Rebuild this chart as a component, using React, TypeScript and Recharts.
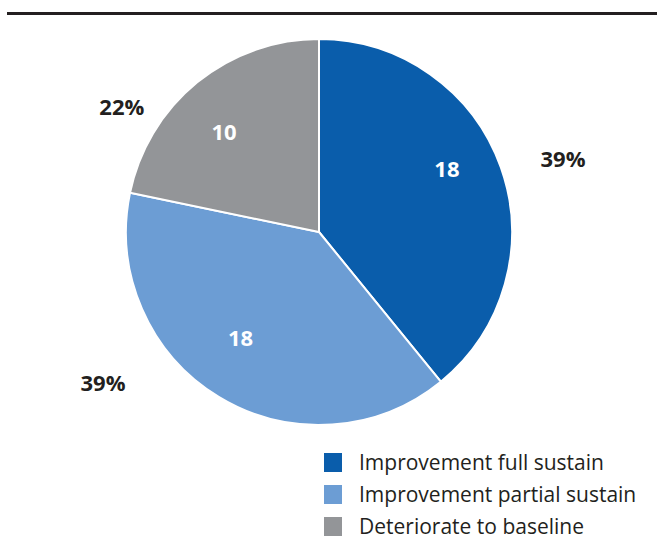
import React from "react";
import { PieChart, Pie, Cell, Legend } from "recharts";

const categories = ["Improvement full sustain", "Improvement partial sustain", "Deteriorate to baseline"];
const counts = [18, 18, 10];
const percentLabels = ["39%", "39%", "22%"];
const colors = ["#0a5dab", "#6c9dd4", "#939598"];

// label placement tweaks (degrees off the slice mid angle, and distance from centre)
const outerShift = [-2.7, -23.9, 18.3];
const outerDist = [255, 263, 234];
const innerShift = [7, -5.5, 4];
const innerDist = [143, 131, 139];

const data = categories.map((name, i) => ({ name, value: counts[i], pct: percentLabels[i] }));

const RAD = Math.PI / 180;
const FONT = "'Open Sans', 'Noto Sans', sans-serif";

const renderLabel = (props: any) => {
  const { cx, cy, midAngle, index } = props;
  const a1 = (midAngle + innerShift[index]) * RAD;
  const a2 = (midAngle + outerShift[index]) * RAD;
  return (
    <g>
      <text
        x={cx + innerDist[index] * Math.cos(a1)}
        y={cy - innerDist[index] * Math.sin(a1)}
        fill="#ffffff"
        fontSize={22}
        fontWeight={700}
        fontFamily={FONT}
        textAnchor="middle"
        dominantBaseline="central"
      >
        {counts[index]}
      </text>
      <text
        x={cx + outerDist[index] * Math.cos(a2)}
        y={cy - outerDist[index] * Math.sin(a2)}
        fill="#231f20"
        fontSize={22}
        fontWeight={700}
        fontFamily={FONT}
        textAnchor="middle"
        dominantBaseline="central"
      >
        {percentLabels[index]}
      </text>
    </g>
  );
};

const renderLegend = () => (
  <div style={{ fontFamily: FONT, fontSize: 21, color: "#231f20" }}>
    {categories.map((c, i) => (
      <div key={c} style={{ display: "flex", alignItems: "center", height: 32 }}>
        <span style={{ width: 18, height: 19, background: colors[i], marginRight: 17, display: "inline-block" }} />
        <span>{c}</span>
      </div>
    ))}
  </div>
);

export default function App() {
  return (
    <div style={{ position: "fixed", left: 0, top: 0, width: 657, height: 560, background: "#fff" }}>
      <div style={{ position: "absolute", left: 7, right: 0, top: 12, height: 3, background: "#231f20" }} />
      <PieChart width={657} height={560} margin={{ top: 0, right: 0, bottom: 0, left: 0 }}>
        <Pie
          data={data}
          dataKey="value"
          cx={319}
          cy={232}
          outerRadius={193}
          startAngle={90}
          endAngle={-270}
          stroke="#ffffff"
          strokeWidth={2}
          label={renderLabel}
          labelLine={false}
          isAnimationActive={false}
        >
          {data.map((d, i) => (
            <Cell key={d.name} fill={colors[i]} />
          ))}
        </Pie>
        <Legend
          content={renderLegend}
          wrapperStyle={{ position: "absolute", left: 324, top: 446, width: 330 }}
        />
      </PieChart>
    </div>
  );
}
